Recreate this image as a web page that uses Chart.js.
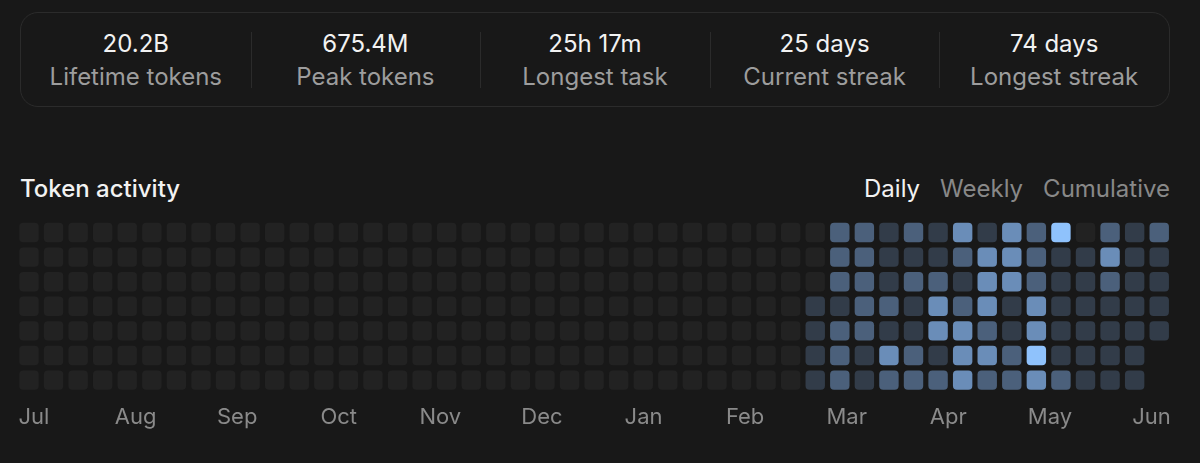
<!DOCTYPE html>
<html>
<head>
<meta charset="utf-8">
<script src="https://cdn.jsdelivr.net/npm/chart.js@4.4.1/dist/chart.umd.min.js"></script>
<style>
  html, body { margin: 0; width: 1200px; height: 463px; overflow: hidden; background: #181818;
    font-family: Inter, "Noto Sans", sans-serif; }
  .card { position: absolute; left: 20px; top: 12px; width: 1148px; height: 93px;
    border: 1px solid #2b2b2b; border-radius: 18px; display: flex; }
  .stat { flex: 1; position: relative; display: flex; flex-direction: column;
    align-items: center; justify-content: center; padding-top: 4px; }
  .stat + .stat::before { content: ''; position: absolute; left: 0; top: 19px; bottom: 18px;
    border-left: 1px solid #2b2b2b; }
  .val { color: #f2f2f2; font-size: 24px; line-height: 30px; }
  .lbl { color: #9d9d9d; font-size: 24px; line-height: 35px; }
  .title { position: absolute; left: 20px; top: 174px; color: #f2f2f2; font-size: 24px; font-weight: 500; }
  .tabs { position: absolute; right: 30px; top: 174px; display: flex; gap: 20px; font-size: 24px; color: #888; }
  .tabs .on { color: #f2f2f2; }
  #wrap { position: absolute; left: 0; top: 200px; width: 1200px; height: 250px; }
</style>
</head>
<body>
<div class="card">
  <div class="stat"><div class="val">20.2B</div><div class="lbl">Lifetime tokens</div></div>
  <div class="stat"><div class="val">675.4M</div><div class="lbl">Peak tokens</div></div>
  <div class="stat"><div class="val">25h 17m</div><div class="lbl">Longest task</div></div>
  <div class="stat"><div class="val">25 days</div><div class="lbl">Current streak</div></div>
  <div class="stat"><div class="val">74 days</div><div class="lbl">Longest streak</div></div>
</div>
<div class="title">Token activity</div>
<div class="tabs"><span class="on">Daily</span><span>Weekly</span><span>Cumulative</span></div>
<div id="wrap"><canvas id="heat"></canvas></div>
<script>
// activity level per week (0 = none, 4 = most), one array per weekday row, null = no day yet
const sun = [0,0,0,0,0,0,0,0,0,0,0,0,0,0,0,0,0,0,0,0,0,0,0,0,0,0,0,0,0,0,0,0, 0,2,2,1,2,1,3,1,3,2,4,0,2,1,2];
const mon = [0,0,0,0,0,0,0,0,0,0,0,0,0,0,0,0,0,0,0,0,0,0,0,0,0,0,0,0,0,0,0,0, 0,2,2,1,1,1,2,3,3,2,1,1,3,1,1];
const tue = [0,0,0,0,0,0,0,0,0,0,0,0,0,0,0,0,0,0,0,0,0,0,0,0,0,0,0,0,0,0,0,0, 0,2,2,1,2,2,1,3,3,2,1,1,2,1,1];
const wed = [0,0,0,0,0,0,0,0,0,0,0,0,0,0,0,0,0,0,0,0,0,0,0,0,0,0,0,0,0,0,0,0, 1,1,2,2,1,3,2,3,1,3,1,1,1,1,1];
const thu = [0,0,0,0,0,0,0,0,0,0,0,0,0,0,0,0,0,0,0,0,0,0,0,0,0,0,0,0,0,0,0,0, 1,2,2,1,1,3,3,2,1,3,1,1,1,1,1];
const fri = [0,0,0,0,0,0,0,0,0,0,0,0,0,0,0,0,0,0,0,0,0,0,0,0,0,0,0,0,0,0,0,0, 1,2,1,3,2,1,3,3,2,4,1,1,1,1,null];
const sat = [0,0,0,0,0,0,0,0,0,0,0,0,0,0,0,0,0,0,0,0,0,0,0,0,0,0,0,0,0,0,0,0, 1,2,1,2,2,2,3,2,2,3,2,1,1,1,null];
const months = ['Jul','Aug','Sep','Oct','Nov','Dec','Jan','Feb','Mar','Apr','May','Jun'];

const palette = ['#222222', '#323c49', '#4b607b', '#6a8db8', '#8fc2fc'];
const rows = [sun, mon, tue, wed, thu, fri, sat];
const weeks = sun.map((_, i) => i);
const pad = 0.105;

Chart.defaults.font.family = 'Inter, "Noto Sans", sans-serif';

new Chart(document.getElementById('heat'), {
  type: 'bar',
  data: {
    labels: weeks,
    datasets: rows.map((lv, r) => ({
      data: lv.map(v => v === null ? null : [r + pad, r + 1 - pad]),
      backgroundColor: lv.map(v => palette[v || 0]),
      borderRadius: 4,
      borderSkipped: false,
      grouped: false,
      categoryPercentage: 1,
      barPercentage: 0.79
    }))
  },
  options: {
    responsive: true,
    maintainAspectRatio: false,
    animation: false,
    layout: { padding: { left: 16.7, right: 28.5, top: 20.2, bottom: 7.2 } },
    plugins: { legend: { display: false }, tooltip: { enabled: false } },
    scales: {
      x: { type: 'category', display: false },
      m: {
        type: 'linear', position: 'bottom', axis: 'x', offset: false,
        min: -0.17, max: 11.197,
        grid: { display: false, drawTicks: false, offset: false },
        border: { display: false },
        ticks: {
          stepSize: 1, includeBounds: false, autoSkip: false, maxRotation: 0,
          padding: 12, color: '#8a8a8a', font: { size: 22 },
          callback: v => months[v] || ''
        }
      },
      y: { type: 'linear', min: 0, max: 7, reverse: true, display: false }
    }
  }
});
</script>
</body>
</html>
